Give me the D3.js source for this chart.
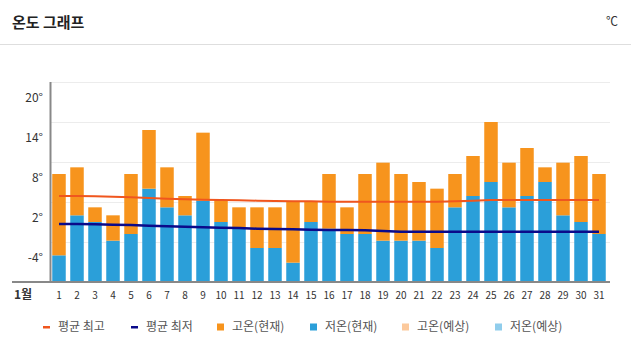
<!DOCTYPE html>
<html>
<head>
<meta charset="utf-8">
<script src="https://cdn.jsdelivr.net/npm/d3@7"></script>
<style>
  body { margin: 0; background: #fff; }
  text { font-family: "Noto Sans CJK KR", "Noto Sans", sans-serif; }
</style>
</head>
<body>
<div id="chart"></div>
<script>
// days of January
const days = d3.range(1, 32).map(String);
// daily high / low (current)
const highNow = [6.2, 7.2, 1.2, 0, 6.2, 12.8, 7.2, 2.9, 12.4, 2.3, 1.2, 1.2, 1.2, 2.1, 2.1, 6.2,
                 1.2, 6.2, 7.9, 6.2, 5.0, 4.0, 6.2, 8.9, 14.0, 7.9, 10.1, 7.2, 7.9, 8.9, 6.2];
const lowNow = [-6, 0, -1, -3.8, -2.8, 4.0, 1.2, 0, 2.2, -1, -2, -4.9, -4.9, -7.1, -1, -2,
                -2.8, -2.8, -3.8, -3.8, -3.8, -4.9, 1.2, 2.9, 5.0, 1.2, 2.9, 5.0, 0, -1, -2.8];
// monthly averages
const avgHigh = [2.9, 2.9, 2.85, 2.8, 2.7, 2.6, 2.5, 2.4, 2.35, 2.3, 2.25, 2.2, 2.15, 2.1, 2.1, 2.05,
                 2.05, 2.05, 2.05, 2.05, 2.05, 2.05, 2.1, 2.2, 2.3, 2.3, 2.3, 2.3, 2.3, 2.3, 2.3];
const avgLow = [-1.3, -1.3, -1.35, -1.4, -1.45, -1.55, -1.65, -1.7, -1.8, -1.85, -1.9, -2.0, -2.05, -2.1, -2.15, -2.2,
                -2.2, -2.25, -2.35, -2.45, -2.45, -2.45, -2.45, -2.45, -2.45, -2.45, -2.45, -2.45, -2.45, -2.45, -2.45];
const yTicks = [20, 14, 8, 2, -4];

const legendItems = [
    { title: "평균 최고", color: "#f0561e", type: "line" },
    { title: "평균 최저", color: "#0a0a8a", type: "line" },
    { title: "고온(현재)", color: "#f7941d", type: "rect" },
    { title: "저온(현재)", color: "#2b9fd9", type: "rect" },
    { title: "고온(예상)", color: "#fcc99c", type: "rect" },
    { title: "저온(예상)", color: "#90cdec", type: "rect" },
];

const W = 631, H = 350;
const svg = d3.select("#chart").append("svg")
    .attr("width", W).attr("height", H);

// header
svg.append("text")
    .attr("x", 12).attr("y", 28)
    .style("font-size", "15px").style("font-weight", "bold").style("fill", "#222")
    .text("온도 그래프");
svg.append("text")
    .attr("x", 618).attr("y", 26).attr("text-anchor", "end")
    .style("font-size", "12px").style("fill", "#333")
    .text("℃");
svg.append("line")
    .attr("x1", 0).attr("x2", W).attr("y1", 44.5).attr("y2", 44.5)
    .attr("stroke", "#dedede");

const x = d3.scaleBand()
    .domain(days)
    .range([50, 608])
    .paddingInner(0.25)
    .paddingOuter(0.125);

const y = d3.scaleLinear()
    .domain([-10, 20])
    .range([282, 82]);

// grid
svg.append("g")
    .selectAll("line")
    .data(yTicks)
    .join("line")
    .attr("x1", 50).attr("x2", 610)
    .attr("y1", d => y(d) + 0.5).attr("y2", d => y(d) + 0.5)
    .attr("stroke", "#ececec");

// y labels (drawn a bit under their grid line, as in the original)
svg.append("g")
    .selectAll("text")
    .data(yTicks)
    .join("text")
    .attr("x", 43).attr("y", d => y(d) + 16)
    .attr("dy", "0.35em")
    .attr("text-anchor", "end")
    .style("font-size", "12px").style("fill", "#333")
    .text(d => d + "°");

// bars
const bars = svg.append("g");
bars.selectAll(".low")
    .data(days)
    .join("rect")
    .attr("class", "low")
    .attr("x", d => x(d))
    .attr("width", x.bandwidth())
    .attr("y", (d, i) => y(lowNow[i]))
    .attr("height", (d, i) => y(-10) - y(lowNow[i]))
    .attr("fill", "#2b9fd9");
bars.selectAll(".high")
    .data(days)
    .join("rect")
    .attr("class", "high")
    .attr("x", d => x(d))
    .attr("width", x.bandwidth())
    .attr("y", (d, i) => y(highNow[i]))
    .attr("height", (d, i) => y(lowNow[i]) - y(highNow[i]))
    .attr("fill", "#f7941d");

// average lines
const line = d3.line()
    .x((d, i) => x(days[i]) + x.bandwidth() / 2)
    .y(d => y(d));
svg.append("path")
    .attr("d", line(avgHigh))
    .attr("fill", "none").attr("stroke", "#f0561e").attr("stroke-width", 2);
svg.append("path")
    .attr("d", line(avgLow))
    .attr("fill", "none").attr("stroke", "#0a0a8a").attr("stroke-width", 2.5);

// axes lines
svg.append("line")
    .attr("x1", 50.5).attr("x2", 50.5).attr("y1", 82).attr("y2", 282)
    .attr("stroke", "#888").attr("stroke-width", 2);
svg.append("line")
    .attr("x1", 12).attr("x2", 610).attr("y1", 282).attr("y2", 282)
    .attr("stroke", "#888").attr("stroke-width", 2);

// x labels
svg.append("text")
    .attr("x", 14).attr("y", 295).attr("dy", "0.35em")
    .style("font-size", "12px").style("font-weight", "bold").style("fill", "#333")
    .text("1월");
svg.append("g")
    .selectAll("text")
    .data(days)
    .join("text")
    .attr("x", d => x(d) + x.bandwidth() / 2)
    .attr("y", 295).attr("dy", "0.35em")
    .attr("text-anchor", "middle")
    .style("font-size", "10px").style("fill", "#333")
    .text(d => d);

// legend
const legendX = [43, 131, 217, 310, 402, 495];
const legend = svg.append("g");
legendItems.forEach((d, i) => {
    const g = legend.append("g").attr("transform", `translate(${legendX[i]}, 327)`);
    if (d.type === "line") {
        g.append("rect").attr("x", 0).attr("y", -1).attr("width", 7).attr("height", 2.5).attr("fill", d.color);
    } else {
        g.append("rect").attr("x", 0).attr("y", -3.5).attr("width", 7).attr("height", 7).attr("fill", d.color);
    }
    g.append("text")
        .attr("x", 15).attr("y", 0).attr("dy", "0.35em")
        .style("font-size", "12px").style("fill", "#555")
        .text(d.title);
});
</script>
</body>
</html>
